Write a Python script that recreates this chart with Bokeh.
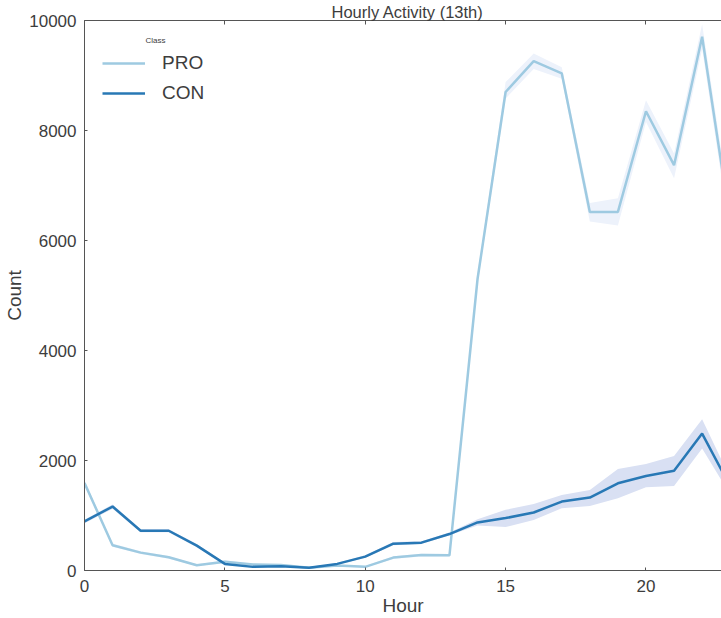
from bokeh.plotting import figure
from bokeh.models import (ColumnDataSource, Range1d, LinearAxis, Legend, LegendItem,
                          Label, FixedTicker)
from bokeh.embed import file_html
from bokeh.resources import INLINE

hours = list(range(24))
pro = [1590, 460, 325, 240, 96, 157, 108, 100, 50, 90, 66, 235, 280, 277,
       5300, 8700, 9260, 9040, 6520, 6520, 8350, 7370, 9705, 6330]
pro_lo = [1540, 430, 300, 215, 80, 130, 90, 85, 40, 75, 55, 210, 255, 255,
          5200, 8580, 9120, 8940, 6345, 6275, 8155, 7130, 9480, 6100]
pro_hi = [1640, 490, 350, 265, 115, 185, 125, 115, 62, 105, 80, 260, 305, 300,
          5400, 8880, 9400, 9150, 6680, 6770, 8550, 7580, 9930, 6560]
con = [892, 1163, 723, 723, 452, 120, 66, 78, 48, 120, 253, 488, 506, 663,
       874, 953, 1055, 1253, 1326, 1586, 1718, 1814, 2490, 1530]
con_lo = [860, 1125, 695, 695, 425, 105, 55, 66, 40, 105, 230, 460, 480, 640,
          820, 790, 920, 1133, 1175, 1314, 1513, 1537, 2219, 1380]
con_hi = [925, 1200, 750, 750, 480, 136, 78, 90, 58, 136, 276, 516, 532, 690,
          930, 1103, 1210, 1374, 1465, 1844, 1935, 2080, 2749, 1680]
y_ticks = [0, 2000, 4000, 6000, 8000, 10000]
x_ticks = [0, 5, 10, 15, 20]

PRO_LINE = "#9ecae1"
CON_LINE = "#2878b5"
PRO_BAND = "#edf2fb"
CON_BAND = "#d9e0f3"
TEXT = "#3d3d3d"
SPINE = "#555555"
FONT = "Liberation Sans"

src = ColumnDataSource(dict(h=hours, pro=pro, pro_lo=pro_lo, pro_hi=pro_hi,
                            con=con, con_lo=con_lo, con_hi=con_hi))

p = figure(width=721, height=618, output_backend="svg", toolbar_location=None,
           x_range=Range1d(0, 22.69), y_range=Range1d(0, 10000),
           min_border_left=84, min_border_right=0, min_border_top=18,
           min_border_bottom=47, title="Hourly Activity (13th)")
p.outline_line_color = None
p.grid.grid_line_color = None
p.background_fill_color = "white"
p.border_fill_color = "white"

p.title.align = "left"
p.title.offset = 247
p.title.text_font = FONT
p.title.text_font_size = "16.5px"
p.title.text_font_style = "normal"
p.title.text_color = TEXT
p.title.standoff = 0

p.varea(x="h", y1="pro_lo", y2="pro_hi", source=src, fill_color=PRO_BAND, fill_alpha=1)
p.varea(x="h", y1="con_lo", y2="con_hi", source=src, fill_color=CON_BAND, fill_alpha=1)
r_pro = p.line(x="h", y="pro", source=src, line_color=PRO_LINE, line_width=2.5)
r_con = p.line(x="h", y="con", source=src, line_color=CON_LINE, line_width=2.5)

for ax in p.xaxis + p.yaxis:
    ax.axis_line_color = SPINE
    ax.axis_line_width = 1
    ax.major_tick_in = 3
    ax.major_tick_out = 0
    ax.major_tick_line_color = SPINE
    ax.minor_tick_line_color = None
    ax.major_label_text_font = FONT
    ax.major_label_text_font_size = "17px"
    ax.major_label_text_color = TEXT
    ax.axis_label_text_font = FONT
    ax.axis_label_text_font_size = "19px"
    ax.axis_label_text_font_style = "normal"
    ax.axis_label_text_color = TEXT

p.xaxis.ticker = FixedTicker(ticks=x_ticks)
p.yaxis.ticker = FixedTicker(ticks=y_ticks)
p.xaxis.axis_label = "Hour"
p.yaxis.axis_label = "Count"
p.xaxis.major_label_standoff = 9
p.yaxis.major_label_standoff = 8
p.xaxis.axis_label_standoff = 0
p.yaxis.axis_label_standoff = 1

top = LinearAxis(ticker=FixedTicker(ticks=x_ticks), axis_line_color=SPINE,
                 major_tick_in=4, major_tick_out=0, major_tick_line_color=SPINE,
                 minor_tick_line_color=None,
                 major_label_overrides={t: "" for t in x_ticks},
                 major_label_standoff=0)
p.add_layout(top, "above")

legend = Legend(items=[LegendItem(label="PRO", renderers=[r_pro]),
                       LegendItem(label="CON", renderers=[r_con])],
                location=(18, 462), padding=8,
                border_line_color=None, background_fill_alpha=0,
                glyph_width=43, glyph_height=30, label_height=30,
                label_standoff=17, spacing=0,
                label_text_font=FONT, label_text_font_size="19px",
                label_text_color=TEXT)
p.add_layout(legend)

p.add_layout(Label(x=61, y=530, x_units="screen", y_units="screen", text="Class",
                   text_font=FONT, text_font_size="8px", text_color=TEXT,
                   text_baseline="middle"))

open("out.html", "w").write(file_html(p, INLINE))
